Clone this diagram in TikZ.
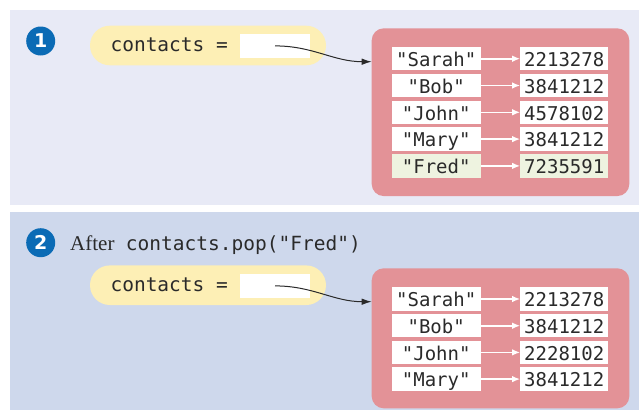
\documentclass[tikz,border=0pt]{standalone}
\usepackage{fontspec}
\setmainfont{Liberation Serif}
\setmonofont{DejaVu Sans Mono}
\newfontfamily\badgefont{DejaVu Sans}
\usepackage{xcolor}
\usetikzlibrary{arrows.meta,positioning,shapes.misc}

\definecolor{paneltop}{HTML}{E8EAF6}
\definecolor{panelbot}{HTML}{CED8EC}
\definecolor{pillyel}{HTML}{FDEFB5}
\definecolor{dictred}{HTML}{E39297}
\definecolor{stepblue}{HTML}{0B6BB5}
\definecolor{gonerow}{HTML}{EEF3E0}
\definecolor{inkgray}{HTML}{2A2A2A}

\begin{document}
\begin{tikzpicture}[
  x=1pt, y=-1pt,
  >=Latex,
  font=\ttfamily\fontsize{19}{21}\selectfont,
  text=inkgray,
  badge/.style={
    circle, fill=stepblue, text=white, inner sep=0pt,
    minimum size=29pt, font=\badgefont\bfseries\fontsize{19}{19}\selectfont
  },
  pill/.style={
    rounded rectangle, fill=pillyel, inner sep=0pt,
    minimum width=236pt, minimum height=39.6pt
  },
  slot/.style={fill=white, inner sep=0pt, minimum width=70pt, minimum height=23.7pt},
  dict/.style={fill=dictred, rounded corners=12pt, inner sep=0pt, minimum width=257.6pt},
  cell/.style={
    fill=white, inner sep=0pt, text height=19.5pt, text depth=4pt
  },
  keycell/.style={cell, minimum width=89pt},
  valcell/.style={cell, minimum width=87.7pt},
  ptr/.style={->, inkgray, line width=1pt, >={Latex[length=10pt,width=6.5pt]}},
  map/.style={->, white, line width=1.6pt, >={Latex[length=8pt,width=6.5pt]}}
]
  \useasboundingbox (0,0) rectangle (639,410);

  % the two stages
  \fill[paneltop] (10,10) rectangle (639,204.5);
  \fill[panelbot] (10,212) rectangle (639,410);

  % stage 1
  \node[badge] (b1) at (40.7,41) {1};
  \node[pill] (pill1) at (208,45.5) {};
  \node[anchor=base west, font=\ttfamily\fontsize{19.5}{21}\selectfont] (var1) at (107,51.7) {contacts =};
  \node[slot] (slot1) at (275,45.9) {};
  \node[dict, minimum height=167.7pt] (dict1) at (500.5,112.2) {};

  \foreach \k/\v/\c [count=\i] in {Sarah/2213278/white, Bob/3841212/white,
      John/4578102/white, Mary/3841212/white, Fred/7235591/gonerow} {
    \node[keycell, fill=\c] (ka\i) at (436.2,{31.9+26.8*\i}) {"\k"};
    \node[valcell, fill=\c, right=39.3pt of ka\i] (va\i) {\v};
    \draw[map] (ka\i) -- (va\i);
  }

  \coordinate (in1) at (371.7,61.7);
  \draw[ptr] (slot1.center) to[out=0, in=180] (in1);

  % stage 2
  \node[badge] (b2) at (40.7,242.7) {2};
  \node[anchor=base west] (cap2) at (66.7,250)
    {{\rmfamily\fontsize{21}{24}\selectfont After} {\fontsize{19.5}{21}\selectfont contacts.pop("Fred")}};
  \node[pill] (pill2) at (208,285.2) {};
  \node[anchor=base west, font=\ttfamily\fontsize{19.5}{21}\selectfont] (var2) at (107,291.7) {contacts =};
  \node[slot] (slot2) at (275,285.9) {};
  \node[dict, minimum height=140pt] (dict2) at (500.5,338.3) {};

  \foreach \k/\v [count=\i] in {Sarah/2213278, Bob/3841212,
      John/2228102, Mary/3841212} {
    \node[keycell] (kb\i) at (436.2,{272.3+26.7*\i}) {"\k"};
    \node[valcell, right=39.3pt of kb\i] (vb\i) {\v};
    \draw[map] (kb\i) -- (vb\i);
  }

  \coordinate (in2) at (371.7,301.7);
  \draw[ptr] (slot2.center) to[out=0, in=180] (in2);
\end{tikzpicture}
\end{document}
